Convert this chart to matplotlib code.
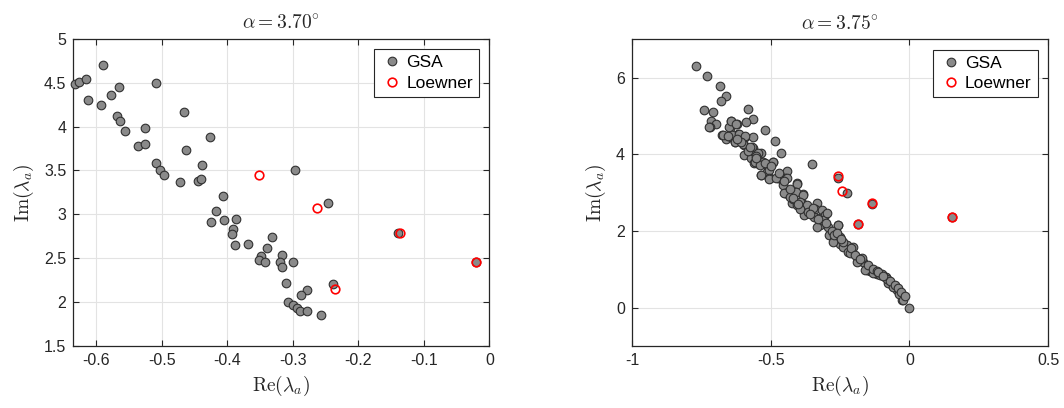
"""Eigenvalue scatter: GSA vs Loewner at two angles of attack."""
import matplotlib
matplotlib.use("Agg")
import matplotlib.pyplot as plt

# alpha = 3.70 deg
gsa_370_re = [-0.632, -0.627, -0.616, -0.590, -0.613, -0.509, -0.577, -0.565, -0.593,
              -0.568, -0.564, -0.556, -0.526, -0.536, -0.526, -0.466, -0.427, -0.463,
              -0.509, -0.502, -0.496, -0.472, -0.439, -0.445, -0.440, -0.406, -0.417,
              -0.425, -0.405, -0.387, -0.392, -0.393, -0.388, -0.368, -0.332, -0.339,
              -0.348, -0.351, -0.343, -0.297, -0.246, -0.140, -0.021, -0.316, -0.319,
              -0.317, -0.299, -0.311, -0.239, -0.278, -0.287, -0.308, -0.299, -0.293,
              -0.289, -0.278, -0.257]
gsa_370_im = [4.49, 4.51, 4.537, 4.696, 4.305, 4.499, 4.355, 4.45, 4.248,
              4.115, 4.066, 3.952, 3.983, 3.774, 3.804, 4.169, 3.88, 3.736,
              3.584, 3.508, 3.447, 3.364, 3.557, 3.379, 3.40, 3.212, 3.037,
              2.916, 2.938, 2.946, 2.828, 2.771, 2.65, 2.658, 2.745, 2.616,
              2.521, 2.483, 2.456, 3.50, 3.132, 2.783, 2.46, 2.536, 2.456,
              2.403, 2.46, 2.213, 2.202, 2.137, 2.08, 2.005, 1.963, 1.936,
              1.894, 1.894, 1.853]
loewner_370_re = [-0.352, -0.263, -0.236, -0.136, -0.021]
loewner_370_im = [3.443, 3.075, 2.145, 2.783, 2.46]

# alpha = 3.75 deg
gsa_375_re = [-0.770, -0.731, -0.684, -0.660, -0.678, -0.739, -0.709, -0.583, -0.564,
              -0.590, -0.643, -0.622, -0.716, -0.696, -0.720, -0.520, -0.647, -0.674,
              -0.662, -0.644, -0.619, -0.591, -0.565, -0.630, -0.596, -0.565, -0.485,
              -0.463, -0.597, -0.571, -0.536, -0.562, -0.550, -0.537, -0.493, -0.508,
              -0.536, -0.502, -0.466, -0.440, -0.448, -0.454, -0.405, -0.448, -0.418,
              -0.424,
              -0.649, -0.671, -0.640, -0.616, -0.629, -0.593, -0.599, -0.568, -0.545,
              -0.560, -0.541, -0.529, -0.514, -0.505, -0.535, -0.471, -0.442, -0.406,
              -0.433, -0.412, -0.382, -0.420, -0.406, -0.388, -0.352, -0.370, -0.380,
              -0.361, -0.334, -0.340, -0.316, -0.344, -0.322, -0.304, -0.322, -0.292,
              -0.288, -0.256, -0.268, -0.250, -0.226,
              -0.550, -0.490, -0.506, -0.472, -0.451, -0.430, -0.409, -0.384, -0.394,
              -0.370, -0.394, -0.364, -0.346, -0.310, -0.298, -0.272, -0.250, -0.238,
              -0.202, -0.220, -0.184, -0.166, -0.142, -0.118, -0.088, -0.063, -0.045,
              -0.027, 0.0,
              -0.334, -0.256, -0.274, -0.214, -0.187, -0.151, -0.130, -0.106, -0.084,
              -0.076, -0.058, -0.036, -0.024, -0.190, -0.160,
              -0.721, -0.642, -0.624, -0.654, -0.606, -0.582, -0.552, -0.557, -0.539,
              -0.521, -0.506, -0.480,
              -0.259, -0.224, -0.136, -0.186, 0.155, -0.257,
              -0.420, -0.400, -0.360, -0.330, -0.300, -0.280, -0.270, -0.240, -0.210,
              -0.195, -0.172, -0.150, -0.132, -0.118, -0.100, -0.082, -0.070, -0.052,
              -0.040, -0.030, -0.014, -0.620, -0.575, -0.552, -0.500, -0.470, -0.452,
              -0.432, -0.262, -0.245, -0.178, -0.112, -0.095]
gsa_375_im = [6.31, 6.04, 5.78, 5.52, 5.38, 5.15, 5.10, 5.17, 4.91,
              4.84, 4.87, 4.78, 4.87, 4.78, 4.71, 4.63, 4.68, 4.49,
              4.39, 4.46, 4.54, 4.46, 4.44, 4.32, 4.25, 4.15, 4.34,
              4.02, 3.97, 3.89, 4.02, 4.08, 3.85, 3.76, 3.80, 3.63,
              3.45, 3.37, 3.37, 3.56, 3.37, 3.19, 3.24, 2.98, 2.89,
              2.72,
              4.71, 4.50, 4.50, 4.54, 4.31, 4.47, 4.26, 4.18, 4.04,
              3.78, 3.76, 3.80, 3.54, 3.60, 3.46, 3.37, 3.37, 3.22,
              2.93, 3.02, 2.96, 2.82, 2.67, 2.73, 3.74, 2.59, 2.41,
              2.50, 2.73, 2.56, 2.54, 2.37, 2.35, 2.41, 2.15, 2.09,
              1.89, 2.15, 1.76, 1.66, 1.63,
              3.76, 3.80, 3.37, 3.37, 2.99, 2.89, 3.02, 2.93, 2.76,
              2.67, 2.56, 2.50, 2.59, 2.28, 2.46, 1.76, 1.83, 1.59,
              1.58, 1.46, 1.29, 1.20, 0.96, 0.88, 0.81, 0.59, 0.46,
              0.20, 0.0,
              2.11, 1.85, 1.72, 1.42, 1.22, 0.98, 0.91, 0.85, 0.81,
              0.65, 0.55, 0.36, 0.20, 1.20, 0.98,
              4.72, 4.86, 4.79, 4.47, 4.32, 4.08, 3.95, 3.81, 3.73,
              3.77, 3.35, 3.38,
              3.39, 3.00, 2.71, 2.17, 2.37, 2.15,
              2.85, 2.70, 2.45, 2.30, 2.20, 2.00, 1.90, 1.72, 1.55,
              1.38, 1.30, 1.10, 1.00, 0.95, 0.88, 0.75, 0.70, 0.60,
              0.50, 0.40, 0.30, 4.40, 4.20, 3.90, 3.70, 3.50, 3.30,
              3.10, 1.95, 1.80, 1.26, 0.92, 0.83]
loewner_375_re = [-0.256, -0.242, -0.136, -0.186, 0.155]
loewner_375_im = [3.43, 3.03, 2.73, 2.19, 2.37]

plt.rcParams["font.family"] = ["Liberation Sans", "DejaVu Sans"]
plt.rcParams["mathtext.fontset"] = "cm"
INK = "#262626"

fig = plt.figure(figsize=(10.64, 4.08), dpi=100)
ax1 = fig.add_axes([0.0689, 0.152, 0.391, 0.753])
ax2 = fig.add_axes([0.594, 0.152, 0.391, 0.752])

panels = [
    (ax1, gsa_370_re, gsa_370_im, loewner_370_re, loewner_370_im,
     r"$\alpha = 3.70^{\circ}$", (-0.635, 0), (1.5, 5),
     [-0.6, -0.5, -0.4, -0.3, -0.2, -0.1, 0], ["-0.6", "-0.5", "-0.4", "-0.3", "-0.2", "-0.1", "0"],
     [1.5, 2, 2.5, 3, 3.5, 4, 4.5, 5], ["1.5", "2", "2.5", "3", "3.5", "4", "4.5", "5"]),
    (ax2, gsa_375_re, gsa_375_im, loewner_375_re, loewner_375_im,
     r"$\alpha = 3.75^{\circ}$", (-1, 0.5), (-1, 7),
     [-1, -0.5, 0, 0.5], ["-1", "-0.5", "0", "0.5"],
     [0, 2, 4, 6], ["0", "2", "4", "6"]),
]

for ax, gre, gim, lre, lim, title, xl, yl, xt, xtl, yt, ytl in panels:
    ax.plot(gre, gim, "o", ms=6.2, mfc="#8a8a8a", mec="#303030", mew=0.8,
            ls="none", label="GSA", clip_on=False, zorder=3)
    ax.plot(lre, lim, "o", ms=6.2, mfc="none", mec="red", mew=1.2,
            ls="none", label="Loewner", clip_on=False, zorder=4)
    ax.set_xlim(*xl)
    ax.set_ylim(*yl)
    ax.set_xticks(xt)
    ax.set_xticklabels(xtl)
    ax.set_yticks(yt)
    ax.set_yticklabels(ytl)
    ax.grid(True, color="#e3e3e3", lw=0.8)
    ax.set_axisbelow(True)
    ax.tick_params(direction="in", length=4, width=0.8, colors=INK,
                   labelsize=11.5, top=True, right=True, pad=5)
    for s in ax.spines.values():
        s.set_color(INK)
        s.set_linewidth(0.9)
    ax.set_title(title, fontsize=14, color=INK, pad=7)
    ax.set_xlabel(r"$\mathrm{Re}(\lambda_a)$", fontsize=14, color=INK, labelpad=4)
    ax.set_ylabel(r"$\mathrm{Im}(\lambda_a)$", fontsize=14, color=INK, labelpad=6)
    leg = ax.legend(loc="upper right", fontsize=12.5, fancybox=False,
                    framealpha=1, edgecolor=INK, handletextpad=0.1,
                    handlelength=1.4, borderpad=0.35, labelspacing=0.3,
                    borderaxespad=0.6)
    leg.get_frame().set_linewidth(0.8)

fig.savefig("out.png", dpi=100)
